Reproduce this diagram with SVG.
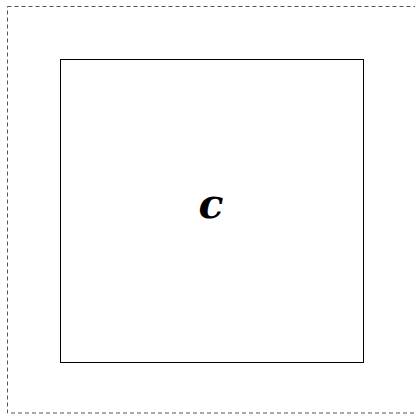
<svg xmlns="http://www.w3.org/2000/svg" width="415" height="417" viewBox="0 0 415 417">
<style>
.frame{fill:none;stroke:#555;stroke-width:1;stroke-dasharray:4 3}
.box{fill:#fff;stroke:#000;stroke-width:1}
.lbl{font-family:"DejaVu Serif",serif;font-weight:bold;font-style:italic;font-size:41px;fill:#000}
</style>
<rect class="frame" x="7.5" y="6.5" width="420" height="406.5"/>
<g id="node-c">
<rect class="box" x="60.5" y="59.5" width="303" height="303"/>
<text class="lbl" x="211" y="218" text-anchor="middle">c</text>
</g>
<g id="connectors"/>
</svg>
